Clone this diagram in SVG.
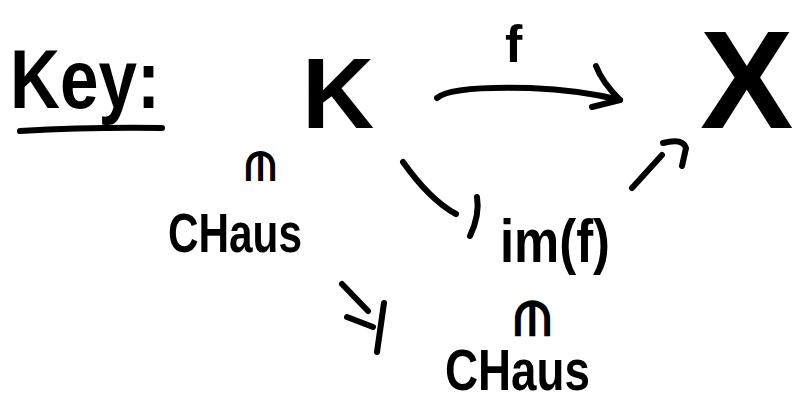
<svg xmlns="http://www.w3.org/2000/svg" width="794" height="406" viewBox="0 0 794 406">
<style>
text{font-family:"Liberation Sans","DejaVu Sans",sans-serif;fill:#000;font-weight:bold}
.s{fill:none;stroke:#000;stroke-width:6;stroke-linecap:round;stroke-linejoin:round}
</style>
<rect width="794" height="406" fill="#fff"/>
<g id="key">
<text x="10" y="108" font-size="84" textLength="150" lengthAdjust="spacingAndGlyphs">Key:</text>
<path class="s" d="M20 131 Q90 127 162 128"/>
</g>
<g id="node-K"><text x="302" y="128" font-size="100">K</text></g>
<g id="node-X"><text x="700" y="128" font-size="140">X</text></g>
<g id="node-imf"><text x="500" y="262" font-size="62" textLength="110" lengthAdjust="spacingAndGlyphs">im(f)</text></g>
<g id="node-CHaus1">
<text transform="translate(260,166) rotate(90)" font-size="40" text-anchor="middle" dy="0.35em">∈</text>
<text x="168" y="252" font-size="56" textLength="134" lengthAdjust="spacingAndGlyphs">CHaus</text>
</g>
<g id="node-CHaus2">
<text transform="translate(532,318) rotate(90)" font-size="48" text-anchor="middle" dy="0.35em">∈</text>
<text x="445" y="390" font-size="58" textLength="145" lengthAdjust="spacingAndGlyphs">CHaus</text>
</g>
<g id="connectors">
<path class="s" d="M437 98 Q450 86 530 88 Q580 90 620 100"/>
<path class="s" d="M596 66 Q602 82 620 100 L592 107"/>
<text x="505" y="62" font-size="52">f</text>
<path class="s" d="M403 162 Q430 200 456 214"/>
<path class="s" d="M477 197 Q480 215 470 236"/>
<path class="s" d="M632 188 L662 155"/>
<path class="s" d="M663 143 Q683 138 686 148 L682 166"/>
<path class="s" d="M342 284 L368 311"/>
<path class="s" d="M347 317 L373 327"/>
<path class="s" d="M384 303 L377 352"/>
</g>
</svg>
